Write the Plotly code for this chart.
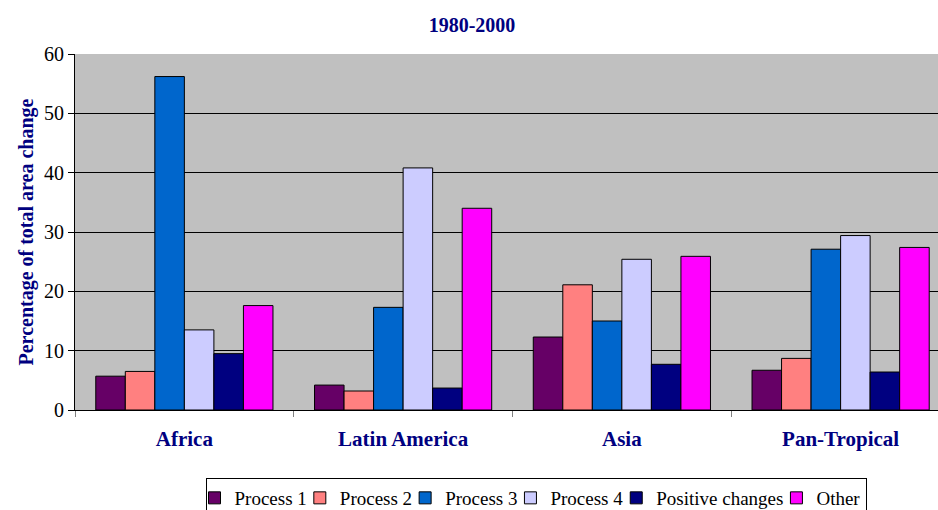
import plotly.graph_objects as go

regions = ["Africa", "Latin America", "Asia", "Pan-Tropical"]

process_1 = [5.7, 4.2, 12.3, 6.7]
process_2 = [6.5, 3.2, 21.1, 8.7]
process_3 = [56.2, 17.3, 15.0, 27.1]
process_4 = [13.5, 40.8, 25.4, 29.4]
positive_changes = [9.5, 3.7, 7.7, 6.4]
other = [17.6, 34.0, 25.9, 27.4]

series_names = ["Process 1", "Process 2", "Process 3", "Process 4", "Positive changes", "Other"]
series_values = [process_1, process_2, process_3, process_4, positive_changes, other]
series_colors = ["#660066", "#FF8080", "#0066CC", "#CCCCFF", "#000080", "#FF00FF"]

y_ticks = [0, 10, 20, 30, 40, 50, 60]

SERIF = "Liberation Serif"
NAVY = "#000080"

fig = go.Figure()
for name, vals, col in zip(series_names, series_values, series_colors):
    fig.add_trace(go.Bar(
        name=name, x=regions, y=vals,
        marker=dict(color=col, line=dict(color="black", width=1)),
    ))

fig.update_layout(
    width=938, height=510,
    barmode="group", bargap=0.19, bargroupgap=0,
    paper_bgcolor="white", plot_bgcolor="#C0C0C0",
    margin=dict(l=75, r=0, t=54, b=100, pad=0, autoexpand=False),
    title=dict(text="<b>1980-2000</b>", x=472/938, xanchor="center", y=1 - 25/510, yanchor="middle",
               font=dict(family=SERIF, size=20, color=NAVY)),
    showlegend=True,
    legend=dict(orientation="h", x=(536 - 75) / 863, xanchor="center",
                yref="container", y=1 - 478/510, yanchor="top",
                bordercolor="black", borderwidth=1, bgcolor="white",
                font=dict(family=SERIF, size=19, color="black"),
                itemwidth=30, indentation=-12, tracegroupgap=0),
    font=dict(family=SERIF, color="black"),
)

fig.update_xaxes(
    type="category", range=[-0.5, 3.5 - 12/219],
    tickson="boundaries", ticks="outside", ticklen=6, tickcolor="#808080",
    tickfont=dict(family=SERIF, size=21, color=NAVY),
    showgrid=False, showline=True, linecolor="black", linewidth=1,
    ticklabelstandoff=10,
)
fig.update_xaxes(ticktext=[f"<b>{r}</b>" for r in regions], tickvals=regions)

fig.update_yaxes(
    range=[0, 60], tickvals=y_ticks, ticks="outside", ticklen=6, tickcolor="black",
    tickfont=dict(family=SERIF, size=20, color="black"),
    showgrid=True, gridcolor="black", gridwidth=1,
    showline=True, linecolor="black", linewidth=1, zeroline=False,
    title=dict(text="<b>Percentage of total area change</b>", standoff=5,
               font=dict(family=SERIF, size=20, color=NAVY)),
)

fig.write_html("out.html")
